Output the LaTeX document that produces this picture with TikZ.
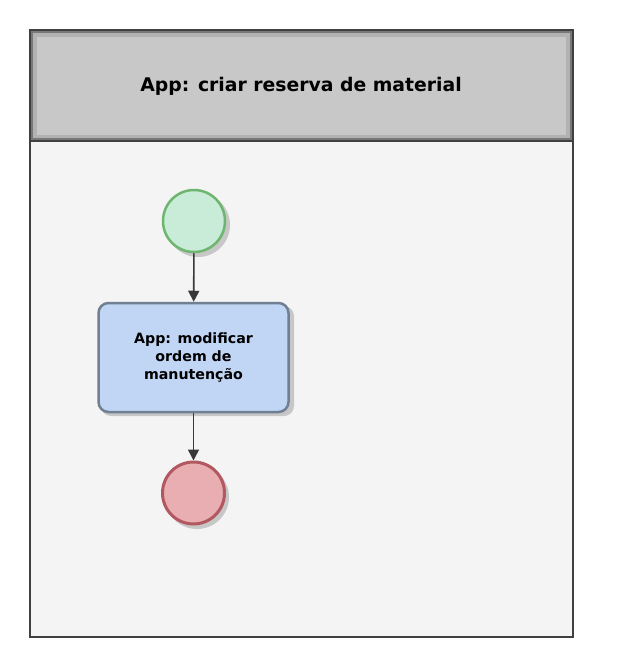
\documentclass[tikz,border=0pt]{standalone}
\usepackage{fontspec}
\setmainfont{DejaVu Sans}
\usetikzlibrary{arrows.meta}
\definecolor{startfill}{RGB}{200,236,216}
\definecolor{startline}{RGB}{110,182,112}
\definecolor{endfill}{RGB}{232,174,177}
\definecolor{endline}{RGB}{178,88,96}
\definecolor{taskfill}{RGB}{192,214,244}
\definecolor{taskline}{RGB}{112,128,146}
\definecolor{headfill}{RGB}{200,200,200}
\definecolor{headedge}{RGB}{120,120,120}
\definecolor{poolfill}{RGB}{244,244,244}
\definecolor{frameline}{RGB}{64,64,64}
\begin{document}
\begin{tikzpicture}[x=1pt,y=-1pt,
  frame/.style={draw=frameline,line width=2.2pt},
  startev/.style={circle,draw=startline,fill=startfill,line width=2.5pt,minimum size=62pt,inner sep=0pt},
  endev/.style={circle,draw=endline,fill=endfill,line width=3pt,minimum size=62pt,inner sep=0pt},
  task/.style={draw=taskline,fill=taskfill,line width=2.5pt,rounded corners=10pt,minimum width=190pt,minimum height=109pt,align=center,font=\bfseries\fontsize{14.2}{18}\selectfont},
  shadow/.style={fill=black!22},
  flow/.style={draw=black!78,line width=1.6pt,-{Triangle[length=11pt,width=11pt]}}
]
\useasboundingbox (0,0) rectangle (616,669);
\fill[white] (0,0) rectangle (616,669);
% pool
\fill[poolfill] (30,141) rectangle (573,637);
\fill[headedge] (30,30) rectangle (573,141);
\fill[black!30] (33,33) rectangle (570,138);
\fill[headfill] (37,37) rectangle (566,135);
\draw[frame] (30,30) rectangle (573,637);
\draw[frame] (30,141) -- (573,141);
\node[font=\bfseries\fontsize{18.8}{22}\selectfont] (title) at (301,86) {App: criar reserva de material};
% shadows
\fill[shadow] (198,225) circle (32);
\fill[shadow,rounded corners=10pt] (101,306) rectangle (294,416);
\fill[shadow] (197,497) circle (32);
% elements
\node[startev] (start) at (194,221) {};
\node[task] (t1) at (193.5,357.5) {App: modificar\\ordem de\\manutenção};
\node[endev] (end) at (193.5,493) {};
\draw[flow] (start) -- (t1);
\draw[flow] (t1) -- (end);
\end{tikzpicture}
\end{document}
